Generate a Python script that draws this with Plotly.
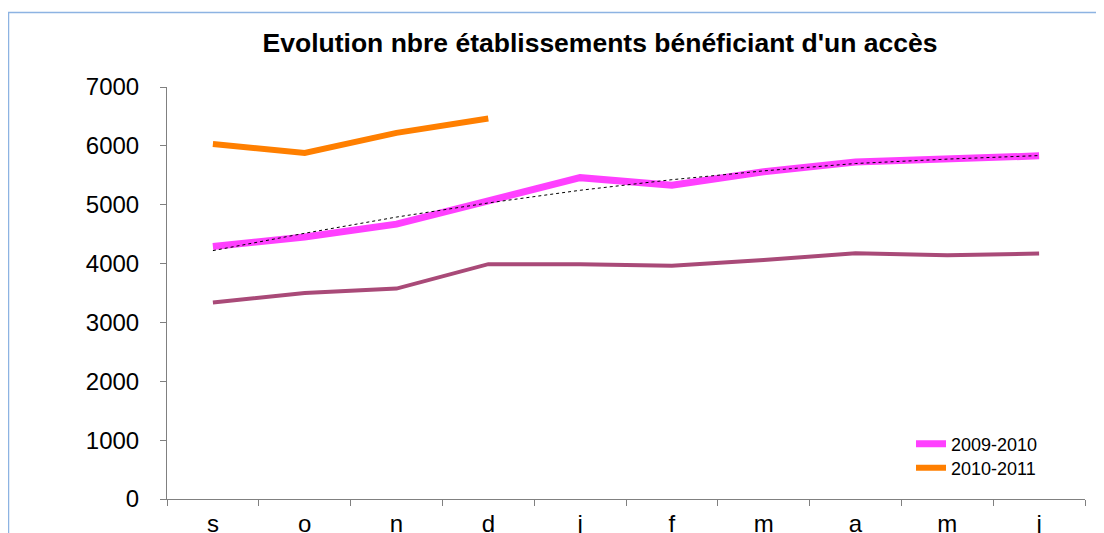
import plotly.graph_objects as go

months = ["s", "o", "n", "d", "j", "f", "m", "a", "m", "j"]
x_pos = list(range(len(months)))
serie_2008_2009 = [3340, 3500, 3575, 3990, 3990, 3965, 4060, 4175, 4140, 4170]
serie_2009_2010 = [4290, 4450, 4670, 5055, 5460, 5330, 5560, 5725, 5780, 5830]
serie_2010_2011 = [6030, 5880, 6220, 6465]
trend_2009_2010 = [4220, 4515, 4790, 5030, 5245, 5425, 5575, 5700, 5775, 5835]
y_ticks = [0, 1000, 2000, 3000, 4000, 5000, 6000, 7000]

FONT = "Liberation Sans, Arial, sans-serif"

fig = go.Figure()
fig.add_trace(go.Scatter(x=x_pos, y=serie_2008_2009, mode="lines", name="2008-2009",
                         line=dict(color="#A94A78", width=4), showlegend=False))
fig.add_trace(go.Scatter(x=x_pos, y=serie_2009_2010, mode="lines", name="2009-2010",
                         line=dict(color="#FF40FF", width=7), legend="legend"))
fig.add_trace(go.Scatter(x=x_pos[:len(serie_2010_2011)], y=serie_2010_2011, mode="lines",
                         name="2010-2011", line=dict(color="#FF7F00", width=6),
                         legend="legend2"))
fig.add_trace(go.Scatter(x=x_pos, y=trend_2009_2010, mode="lines", name="Tendance",
                         line=dict(color="black", width=1, dash="dot"), showlegend=False))

# page offset (body margin) in screen pixels
OFF = 8
W, H = 1104 - OFF, 533 - OFF
# target screen positions of plot area
sx0, sx1, sy0, sy1 = 167, 1085, 87, 499
L, R, T = sx0 - OFF, W - (sx1 - OFF), sy0 - OFF
B = H - (sy1 - OFF)
pw, ph = W - L - R, H - T - B

def px(xs):
    return (xs - OFF - L) / pw

def py(ys):
    return (H - B - (ys - OFF)) / ph

legend_style = dict(xanchor="left", yanchor="middle",
                    font=dict(size=18, family=FONT, color="black"),
                    bgcolor="rgba(0,0,0,0)", itemwidth=30)

fig.update_layout(
    template="none",
    width=W, height=H,
    margin=dict(l=L, r=R, t=T, b=B, autoexpand=False),
    paper_bgcolor="white", plot_bgcolor="white",
    font=dict(family=FONT, color="black"),
    title=dict(text="<b>Evolution nbre établissements bénéficiant d'un accès</b>",
               x=(600 - OFF) / W, xanchor="center", y=1 - (43 - OFF) / H, yanchor="middle",
               font=dict(size=26.5, family=FONT, color="black")),
    xaxis=dict(range=[-0.5, len(months) - 0.5], tickvals=x_pos, ticktext=months,
               ticks="", showgrid=False, zeroline=False, showline=True, automargin=False,
               linecolor="#808080", linewidth=1, tickfont=dict(size=24),
               ticklabelstandoff=3,
               minor=dict(tickvals=[i - 0.5 for i in range(len(months) + 1)],
                          ticks="outside", ticklen=6, tickcolor="#808080", showgrid=False)),
    yaxis=dict(range=[0, 7000], tickvals=y_ticks, ticks="outside", ticklen=6,
               tickcolor="#808080", showgrid=False, zeroline=False, showline=True,
               automargin=False,
               linecolor="#808080", linewidth=1, tickfont=dict(size=24),
               ticklabelstandoff=16),
    legend=dict(x=px(911), y=py(444), **legend_style),
    legend2=dict(x=px(911), y=py(468), **legend_style),
    shapes=[dict(type="rect", xref="paper", yref="paper",
                 x0=px(8.5), x1=px(1097), y0=py(560), y1=py(12.5),
                 line=dict(color="#8DB3E2", width=1.5), layer="below")],
)

fig.write_html("out.html")
